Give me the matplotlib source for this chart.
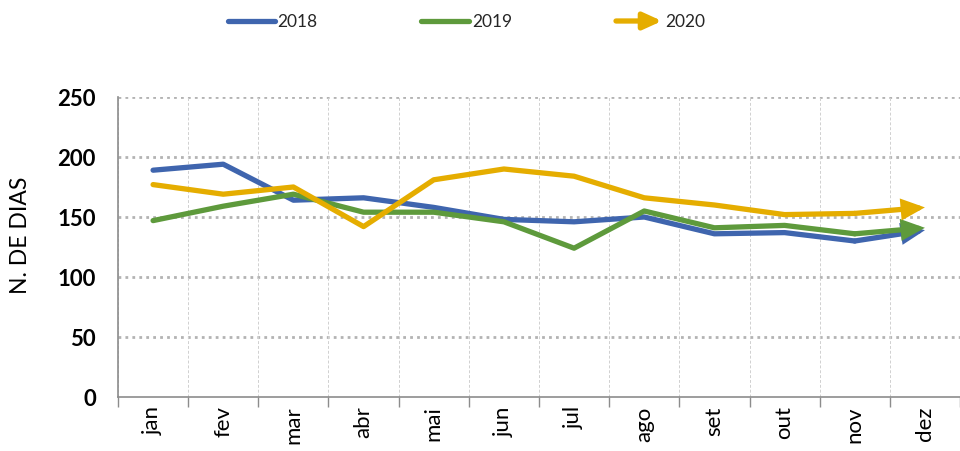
import numpy as np
import matplotlib
matplotlib.use("Agg")
import matplotlib.pyplot as plt
import matplotlib.lines as mlines
from matplotlib.patches import ArrowStyle, FancyArrowPatch

plt.rcParams['font.family'] = ['Lato', 'DejaVu Sans']

months = ['jan', 'fev', 'mar', 'abr', 'mai', 'jun', 'jul', 'ago', 'set', 'out', 'nov', 'dez']
years = ['2018', '2019', '2020']
dias_2018 = [189, 194, 164, 166, 158, 148, 146, 150, 136, 137, 130, 139]
dias_2019 = [147, 159, 169, 154, 154, 146, 124, 155, 141, 143, 136, 141]
dias_2020 = [177, 169, 175, 142, 181, 190, 184, 166, 160, 152, 153, 158]
colors = ['#3F65AE', '#5E9A3C', '#E5AD00']

fig = plt.figure(figsize=(9.6, 4.52), dpi=100)
ax = fig.add_axes([118 / 960, 1 - 398 / 452, 842 / 960, 300 / 452])

x = np.arange(len(months))
arrow = ArrowStyle('-|>', head_length=1.1, head_width=0.5)
for vals, c in zip([dias_2018, dias_2019, dias_2020], colors):
    # line up to nov, then an arrow for the last segment
    ax.plot(x[:-1], vals[:-1], color=c, lw=3.8, solid_capstyle='round',
            solid_joinstyle='round', zorder=3)
    ax.add_patch(FancyArrowPatch((x[-2], vals[-2]), (x[-1], vals[-1]),
                                 arrowstyle=arrow, mutation_scale=10,
                                 color=c, lw=3.8, shrinkA=0, shrinkB=0,
                                 capstyle='round', joinstyle='miter', zorder=3))

# axes
ax.set_ylim(0, 250)
ax.set_xlim(-0.5, -0.5 + 842 / 70.8)
ax.set_yticks([0, 50, 100, 150, 200, 250])
ax.set_xticks(x)
ax.set_xticklabels(months, rotation=90, fontsize=16, color='#000000')
ax.set_xticks(np.arange(-0.5, 12, 1), minor=True)
ax.tick_params(axis='x', which='major', length=0, pad=6)
ax.tick_params(axis='x', which='minor', length=7, color='#8c8c8c', width=1)
ax.tick_params(axis='y', length=0, pad=16, labelsize=16)
for lab in ax.get_yticklabels():
    lab.set_fontweight('bold')

for y in [50, 100, 150, 200, 250]:
    ax.axhline(y, color='#b3b3b3', lw=2, linestyle=(0, (1, 1.5)), zorder=1)
ax.grid(True, axis='x', which='minor', color='#d0d0d0', lw=0.7, linestyle=(0, (3, 2)), zorder=0)

for s in ['top', 'right']:
    ax.spines[s].set_visible(False)
for s in ['left', 'bottom']:
    ax.spines[s].set_color('#8c8c8c')
    ax.spines[s].set_linewidth(1.2)

ax.set_ylabel('N. DE DIAS', fontsize=16.5)
ax.yaxis.set_label_coords((31 - 118) / 842, (398 - 235) / 300)

# legend across the top
leg_y = 1 - 22 / 452
leg = [(228, 275, 277), (421, 469, 472), (616, 662, 665)]
for (x0, x1, xt), lab, c, i in zip(leg, years, colors, range(3)):
    if i < 2:
        fig.add_artist(mlines.Line2D([x0 / 960, x1 / 960], [leg_y, leg_y], color=c,
                                     lw=3.8, solid_capstyle='round'))
    else:
        fig.add_artist(FancyArrowPatch((x0 / 960, leg_y), (x1 / 960, leg_y),
                                       transform=fig.transFigure, arrowstyle=arrow,
                                       mutation_scale=10, color=c, lw=3.8,
                                       shrinkA=0, shrinkB=0, capstyle='round'))
    fig.text(xt / 960, leg_y, lab, fontsize=12.5, color='#262626', va='center', ha='left')

fig.savefig('out.png', dpi=100)
